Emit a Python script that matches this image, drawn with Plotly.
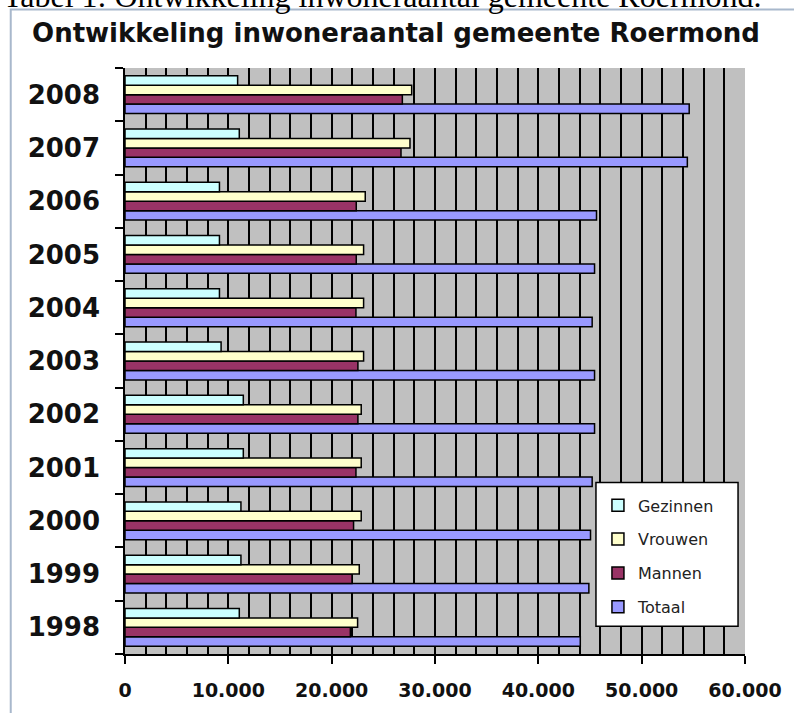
import plotly.graph_objects as go

years = ['1998', '1999', '2000', '2001', '2002', '2003', '2004', '2005', '2006', '2007', '2008']
gezinnen = [11060, 11220, 11220, 11450, 11450, 9300, 9140, 9140, 9140, 11060, 10900]
vrouwen = [22510, 22670, 22860, 22860, 22860, 23090, 23090, 23090, 23250, 27580, 27740]
mannen = [21810, 21970, 22120, 22350, 22540, 22540, 22350, 22380, 22380, 26710, 26840]
totaal = [44060, 44890, 45050, 45210, 45440, 45440, 45210, 45440, 45630, 54420, 54600]

# (name, values, colour, legend rank)
series = [
    ('Totaal', totaal, '#9999FF', 4),
    ('Mannen', mannen, '#993366', 3),
    ('Vrouwen', vrouwen, '#FFFFCC', 2),
    ('Gezinnen', gezinnen, '#CCFFFF', 1),
]

W, H = 794, 713
L, R, T, B = 125, 45, 68, 54
pw = W - L - R
ph = H - T - B


def px_x(p):
    return (p - L) / pw


def px_y(p):
    return (H - B - p) / ph


fig = go.Figure()
for name, vals, col, rank in series:
    fig.add_trace(go.Bar(
        y=years, x=vals, name=name, orientation='h',
        marker=dict(color=col, line=dict(color='black', width=1.5)),
        legendgroup=name, legendrank=rank,
    ))

fig.update_layout(
    width=W, height=H,
    margin=dict(l=L, r=R, t=T, b=B),
    paper_bgcolor='white',
    plot_bgcolor='#C0C0C0',
    barmode='group',
    bargap=0.29,
    bargroupgap=0,
    separators=',.',
    font=dict(family='DejaVu Sans', color='black'),
    title=dict(
        text='Ontwikkeling inwoneraantal gemeente Roermond',
        x=396 / W, xref='container', xanchor='center',
        y=1 - 33 / H, yref='container', yanchor='middle',
        font=dict(family='DejaVu Sans', size=26, color='#111111', weight='bold'),
    ),
    legend=dict(
        x=px_x(601), y=px_y(492), xanchor='left', yanchor='top',
        bgcolor='rgba(0,0,0,0)', borderwidth=0,
        font=dict(family='DejaVu Sans', size=16, color='#222222'),
        traceorder='grouped', tracegroupgap=10,
    ),
    xaxis=dict(
        range=[0, 60000],
        tickvals=[0, 10000, 20000, 30000, 40000, 50000, 60000],
        tickformat=',d',
        ticks='outside', ticklen=8, tickwidth=1.5, tickcolor='black',
        ticklabelstandoff=10,
        tickfont=dict(family='DejaVu Sans', size=19, color='#111111', weight='bold'),
        showgrid=True, gridcolor='black', gridwidth=1.5,
        minor=dict(dtick=2000, showgrid=True, gridcolor='black', gridwidth=1.5),
        showline=True, linecolor='black', linewidth=1.5,
        zeroline=False,
    ),
    yaxis=dict(
        type='category',
        tickson='boundaries',
        ticks='outside', ticklen=8, tickwidth=1.5, tickcolor='black',
        ticklabelstandoff=18,
        tickfont=dict(family='DejaVu Sans', size=26, color='#111111', weight='bold'),
        showgrid=False,
        showline=True, linecolor='black', linewidth=1.5,
    ),
    shapes=[
        dict(type='rect', xref='paper', yref='paper',
             x0=px_x(10), y0=px_y(9), x1=px_x(880), y1=px_y(760),
             line=dict(color='#A8B8CC', width=2), fillcolor='rgba(0,0,0,0)', layer='below'),
        # legend box
        dict(type='rect', xref='paper', yref='paper',
             x0=px_x(599), y0=px_y(486), x1=px_x(742), y1=px_y(631),
             line=dict(color='black', width=1.5), fillcolor='white', layer='above'),
    ],
    annotations=[
        dict(text='Tabel 1: Ontwikkeling inwoneraantal gemeente Roermond.',
             xref='paper', yref='paper', x=px_x(0), y=px_y(16),
             xanchor='left', yanchor='bottom', showarrow=False,
             font=dict(family='Liberation Serif', size=32, color='black')),
    ],
)

fig.write_html('out.html', config={'displayModeBar': False},
               post_script="document.body.style.margin='0';")
